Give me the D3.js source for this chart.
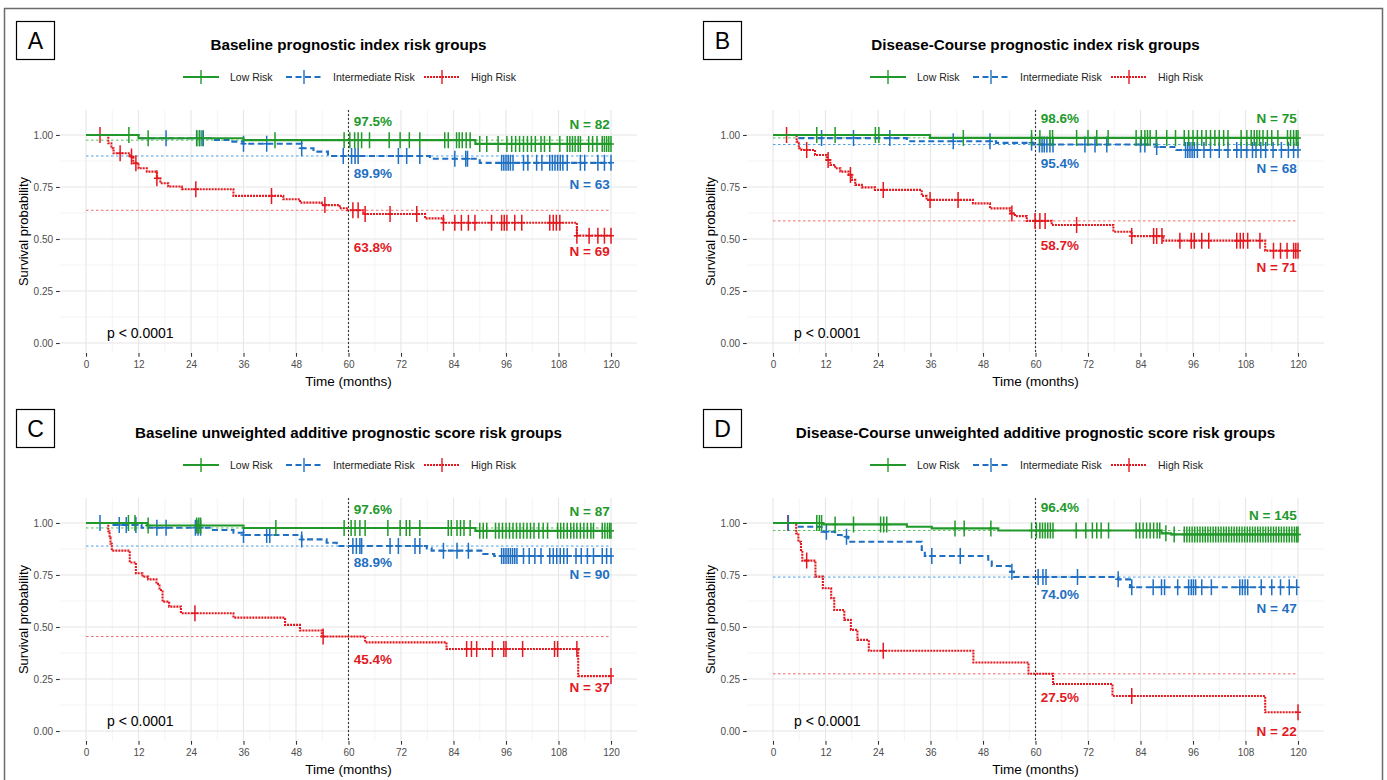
<!DOCTYPE html>
<html>
<head>
<meta charset="utf-8">
<script src="https://cdn.jsdelivr.net/npm/d3@7"></script>
<style>
  body { margin: 0; background: #fff; }
  svg { display: block; font-family: "Liberation Sans", Arial, sans-serif; }
</style>
</head>
<body>
<svg id="chart" width="1387" height="780"></svg>
<script>
// ---- data ----
var xTicks = [0, 12, 24, 36, 48, 60, 72, 84, 96, 108, 120];
var yTicks = [0, 0.25, 0.5, 0.75, 1];
var yTickLabels = ["0.00", "0.25", "0.50", "0.75", "1.00"];
var groupNames = ["Low Risk", "Intermediate Risk", "High Risk"];
var panelLetters = ["A", "B", "C", "D"];
var panelTitles = [
    "Baseline prognostic index risk groups",
    "Disease-Course prognostic index risk groups",
    "Baseline unweighted additive prognostic score risk groups",
    "Disease-Course unweighted additive prognostic score risk groups"
];
var survAt60 = [[97.5, 89.9, 63.8], [98.6, 95.4, 58.7], [97.6, 88.9, 45.4], [96.4, 74.0, 27.5]];
var groupN = [[82, 63, 69], [75, 68, 71], [87, 90, 37], [145, 47, 22]];
// annotation heights in survival units
var pctLabelY = [[1.067, 0.817, 0.457], [1.077, 0.865, 0.471], [1.067, 0.808, 0.346], [1.072, 0.654, 0.163]];
var nLabelY = [[1.048, 0.764, 0.438], [1.077, 0.837, 0.361], [1.053, 0.75, 0.207], [1.034, 0.587, 0.0]];

// step curves: [month, survival from that month on]
var aLowSteps = [[0, 1], [12, 0.984], [36, 0.975], [89, 0.957]];
var aLowCens = [9.8, 14.2, 25.3, 25.9, 26.5, 43.2, 59, 60.3, 61.4, 62.2, 63, 64.8, 69.3, 71.8, 73.9, 76.3, 82, 82.8, 84.7, 85.3, 86, 86.9, 87.8, 90, 91.6, 94.2, 96.2, 97.3, 98.2, 99.1, 100, 100.9, 101.8, 102.7, 104, 104.8, 106, 108.3, 110, 110.6, 111.2, 111.8, 112.5, 113, 114.9, 115.8, 116.8, 118, 118.5, 119, 119.5, 120];
var aMidSteps = [[0, 1], [12, 0.984], [29, 0.976], [33, 0.968], [36, 0.958], [49.3, 0.936], [52, 0.92], [55.3, 0.899], [78.6, 0.886], [90, 0.866]];
var aMidCens = [18.3, 25.3, 26, 26.8, 36, 41.3, 49.3, 58.8, 60.7, 61.5, 62.2, 71.4, 73.3, 76.3, 84.3, 86.8, 87.2, 95, 95.5, 96, 96.5, 97, 97.6, 100, 101, 103, 104.2, 106, 106.6, 107.2, 107.8, 108.4, 109, 110, 113, 114, 117, 118.5, 120];
var aHighSteps = [[0, 1], [5.1, 0.96], [5.8, 0.936], [6.3, 0.912], [10, 0.896], [10.8, 0.864], [12, 0.84], [13.9, 0.824], [16.2, 0.792], [17, 0.768], [18.8, 0.752], [21.9, 0.739], [33.7, 0.707], [45.1, 0.691], [48.9, 0.675], [53.9, 0.663], [58, 0.648], [59.6, 0.638], [63.4, 0.62], [77.5, 0.599], [81.7, 0.578], [112.2, 0.516]];
var aHighCens = [3.2, 7.8, 10.4, 11.4, 16.2, 25.1, 42.4, 54.6, 61, 62.2, 63.8, 69.5, 75.6, 81.7, 84.3, 85.8, 87.4, 88.9, 92.7, 95, 95.6, 96.2, 98, 99.6, 106, 106.8, 107.5, 108.3, 112.2, 115, 117, 118.5, 120];

var bLowSteps = [[0, 1], [35.9, 0.986]];
var bLowCens = [10, 14.2, 23.4, 24.2, 43.5, 59.1, 61, 63.3, 63.9, 69.4, 72, 74, 76.6, 83, 84.2, 85, 85.6, 86.2, 87.6, 90, 92, 94, 95, 96, 97, 98, 99, 100, 101, 102, 103, 104, 107, 108.3, 109.3, 110, 110.6, 111.2, 112, 113, 114, 115.4, 117.6, 118.3, 119, 119.6, 120];
var bMidSteps = [[0, 1], [5.4, 0.985], [30.6, 0.97], [51, 0.962], [59.5, 0.954], [87.7, 0.942], [92.2, 0.928]];
var bMidCens = [11.1, 18.4, 26.7, 41.2, 49.6, 59.1, 60.9, 61.5, 62, 62.6, 63.3, 64, 71.3, 73.6, 76.3, 84, 85, 87.7, 94.3, 94.8, 95.3, 95.8, 96.3, 97, 98.5, 100, 102, 104, 106, 107, 108.3, 109.6, 110.4, 111.5, 112.6, 114.3, 116.2, 117.8, 119, 120];
var bHighSteps = [[0, 1], [5.4, 0.968], [5.9, 0.936], [6.5, 0.928], [9.6, 0.904], [12.3, 0.88], [13.1, 0.856], [14.2, 0.84], [15.4, 0.824], [17.3, 0.808], [18, 0.784], [18.8, 0.76], [20.3, 0.748], [23.3, 0.736], [34, 0.707], [35.1, 0.688], [45.7, 0.671], [49.6, 0.647], [54.2, 0.623], [55.3, 0.61], [58, 0.587], [63.7, 0.567], [77.8, 0.535], [82, 0.514], [89.2, 0.492], [112.5, 0.444]];
var bHighCens = [3.1, 7.7, 12.6, 17.7, 25.2, 35.9, 42.3, 54.6, 59.9, 61, 62.2, 69.4, 82, 87, 87.7, 88.9, 93, 95.6, 96.3, 98, 99.6, 106, 106.8, 107.5, 108.5, 111.3, 114.4, 116, 117.5, 119, 119.5, 120];

var cLowSteps = [[0, 1], [14, 0.988], [36, 0.976], [89, 0.962]];
var cLowCens = [9.7, 11.2, 14.2, 25.3, 25.8, 26.2, 43.4, 59, 60.6, 61.5, 62.6, 63.8, 69, 71.8, 73.2, 74, 76.3, 82.8, 83.5, 84.8, 85.6, 86.4, 87.8, 90, 90.8, 91.6, 93.6, 94.4, 95.2, 96, 96.8, 97.6, 98.4, 99.2, 100, 100.8, 101.6, 102.4, 103.5, 104.5, 105.5, 107.8, 108.5, 109.2, 110, 110.8, 111.5, 112.2, 113, 113.8, 114.6, 115.4, 116, 118, 118.6, 119.2, 119.7, 120];
var cMidSteps = [[0, 1], [5.5, 0.99], [12.7, 0.977], [29, 0.966], [33.7, 0.953], [36, 0.942], [49.3, 0.921], [55, 0.905], [57.3, 0.889], [77.9, 0.878], [79, 0.867], [90.8, 0.851], [93.3, 0.841]];
var cMidCens = [3.2, 7.6, 9.2, 11.4, 16.2, 18.3, 25, 25.6, 26.2, 36, 41.3, 42, 49.3, 61, 61.8, 62.6, 63, 69.5, 71.4, 75.2, 76.3, 81.7, 84.8, 87.4, 95, 95.5, 96, 96.5, 97, 97.5, 98, 98.5, 100, 101.3, 102.6, 104, 106, 106.8, 107.6, 108.4, 109.2, 110, 112, 113.2, 114.6, 116, 118, 119, 120];
var cHighSteps = [[0, 1], [5.1, 0.96], [5.4, 0.93], [5.6, 0.9], [5.9, 0.867], [10, 0.81], [11.4, 0.758], [12.9, 0.742], [14.2, 0.729], [16.1, 0.707], [16.8, 0.678], [17.5, 0.622], [19, 0.598], [21.7, 0.566], [33.7, 0.545], [45.5, 0.51], [48.9, 0.483], [53.9, 0.454], [63.8, 0.426], [82.4, 0.394], [112.5, 0.264]];
var cHighCens = [24.9, 54.2, 87, 88.1, 89.3, 92.9, 95.5, 96, 99.8, 107.1, 107.8, 112.2, 120];

var dLowSteps = [[0, 1], [11.5, 0.993], [30.6, 0.982], [36.3, 0.974], [51.5, 0.964], [88.8, 0.95], [91, 0.945]];
var dLowCens = [10, 10.6, 11.1, 14.2, 18.4, 24.6, 25.3, 26, 41.6, 43.7, 49.8, 59.1, 60.2, 61, 61.6, 62.2, 62.8, 63.4, 64, 69.3, 71.5, 73, 74, 75, 76.7, 83, 83.8, 84.6, 85.4, 86.2, 87, 87.8, 88.4, 89.8, 91.7, 94, 94.6, 95.2, 95.8, 96.4, 97, 97.6, 98.2, 98.8, 99.4, 100, 100.6, 101.2, 101.8, 102.4, 103, 103.6, 104.2, 104.8, 105.4, 106, 106.6, 107.2, 107.8, 108.4, 109, 109.6, 110.2, 110.8, 111.4, 112, 112.6, 113.2, 113.8, 114.4, 115, 115.6, 116.2, 116.8, 117.4, 118, 118.6, 119.2, 119.7, 120];
var dMidSteps = [[0, 1], [5.4, 0.982], [11.1, 0.958], [14.2, 0.942], [15.7, 0.934], [17.2, 0.91], [34, 0.87], [34.7, 0.841], [49.2, 0.814], [50, 0.793], [54.2, 0.766], [55, 0.74], [78.9, 0.729], [81.6, 0.691]];
var dMidCens = [3.5, 12.2, 16.8, 36.3, 42.8, 54.6, 60.6, 61.7, 62.4, 69.6, 78.9, 82, 86.9, 88.8, 89.5, 92.5, 95, 95.6, 96.1, 96.6, 98, 100.2, 106.7, 107.3, 107.9, 108.5, 111.6, 114, 116, 118, 119.7];
var dHighSteps = [[0, 1], [5.3, 0.95], [5.8, 0.91], [6.4, 0.862], [6.7, 0.819], [9.7, 0.742], [11.4, 0.686], [13.3, 0.638], [14, 0.582], [16.3, 0.534], [17.8, 0.486], [19.3, 0.438], [21.9, 0.386], [45.8, 0.329], [58.4, 0.275], [64, 0.226], [77.6, 0.168], [112.5, 0.09]];
var dHighCens = [3.4, 7.7, 25.2, 82, 120];

var panelSteps = [
    [aLowSteps, aMidSteps, aHighSteps],
    [bLowSteps, bMidSteps, bHighSteps],
    [cLowSteps, cMidSteps, cHighSteps],
    [dLowSteps, dMidSteps, dHighSteps]
];
var panelCens = [
    [aLowCens, aMidCens, aHighCens],
    [bLowCens, bMidCens, bHighCens],
    [cLowCens, cMidCens, cHighCens],
    [dLowCens, dMidCens, dHighCens]
];

// ---- styling ----
var lineColors = ["#21992a", "#1f6fc2", "#e3191f"];
var refColors = ["#56c156", "#4a9fe6", "#f26a6a"];
var dashes = [null, "6,3.5", "2,1"];

var svg = d3.select("#chart");

svg.append("rect")
    .attr("x", 4.5).attr("y", 8.5)
    .attr("width", 1378).attr("height", 775)
    .attr("fill", "none").attr("stroke", "#6b6b6b").attr("stroke-width", 1.5);

function survAt(steps, t) {
    var s = steps[0][1];
    steps.forEach(function (d) { if (d[0] <= t) s = d[1]; });
    return s;
}

function drawPanel(p) {
    var dx = (p % 2) * 687;
    var dy = Math.floor(p / 2) * 388;
    var g = svg.append("g").attr("transform", "translate(" + dx + "," + dy + ")");

    var x = d3.scaleLinear().domain([-6, 126]).range([59.75, 637.25]);
    var y = d3.scaleLinear().domain([-0.048, 1.12]).range([353, 110]);

    // panel letter
    g.append("rect").attr("x", 16.5).attr("y", 21.5).attr("width", 38).attr("height", 38)
        .attr("fill", "#fff").attr("stroke", "#000").attr("stroke-width", 1.2);
    g.append("text").attr("x", 35.5).attr("y", 41).attr("text-anchor", "middle")
        .attr("dominant-baseline", "central").style("font-size", "23px").text(panelLetters[p]);

    // title
    g.append("text").attr("x", 348.5).attr("y", 44).attr("text-anchor", "middle")
        .attr("dominant-baseline", "central").style("font-size", "15.2px").style("font-weight", "bold")
        .text(panelTitles[p]);

    // legend
    var keyX = [183, 286, 424];
    var txtX = [230, 333, 471];
    groupNames.forEach(function (name, i) {
        var lg = g.append("g");
        lg.append("line").attr("x1", keyX[i]).attr("x2", keyX[i] + 36).attr("y1", 77).attr("y2", 77)
            .attr("stroke", lineColors[i]).attr("stroke-width", 2)
            .attr("stroke-dasharray", dashes[i]);
        lg.append("line").attr("x1", keyX[i] + 18).attr("x2", keyX[i] + 18).attr("y1", 70).attr("y2", 84)
            .attr("stroke", lineColors[i]).attr("stroke-width", 1.4);
        lg.append("text").attr("x", txtX[i]).attr("y", 77).attr("dominant-baseline", "central")
            .style("font-size", "10.5px").attr("fill", "#222").text(name);
    });

    // grid
    var minorX = xTicks.slice(0, -1).map(function (t) { return t + 6; });
    var minorY = yTicks.slice(0, -1).map(function (t) { return t + 0.125; });
    var grid = g.append("g");
    grid.selectAll(".mx").data(minorX).enter().append("line")
        .attr("x1", x).attr("x2", x).attr("y1", 110).attr("y2", 353)
        .attr("stroke", "#f1f1f1").attr("stroke-width", 0.8);
    grid.selectAll(".my").data(minorY).enter().append("line")
        .attr("x1", 59.75).attr("x2", 637.25).attr("y1", y).attr("y2", y)
        .attr("stroke", "#f1f1f1").attr("stroke-width", 0.8);
    grid.selectAll(".gx").data(xTicks).enter().append("line")
        .attr("x1", x).attr("x2", x).attr("y1", 110).attr("y2", 353)
        .attr("stroke", "#e6e6e6").attr("stroke-width", 1.1);
    grid.selectAll(".gy").data(yTicks).enter().append("line")
        .attr("x1", 59.75).attr("x2", 637.25).attr("y1", y).attr("y2", y)
        .attr("stroke", "#e6e6e6").attr("stroke-width", 1.1);

    // axes
    var xAxis = d3.axisBottom(x).tickValues(xTicks).tickSize(3.7).tickPadding(4);
    var xg = g.append("g").attr("transform", "translate(0,353)").call(xAxis);
    var yAxis = d3.axisLeft(y).tickValues(yTicks).tickSize(3.7).tickPadding(3)
        .tickFormat(function (d, i) { return yTickLabels[i]; });
    var yg = g.append("g").attr("transform", "translate(59.75,0)").call(yAxis);
    [xg, yg].forEach(function (ax) {
        ax.select(".domain").remove();
        ax.selectAll(".tick line").attr("stroke", "#333").attr("stroke-width", 1.1);
        ax.selectAll(".tick text").attr("fill", "#4d4d4d")
            .style("font-size", "10px").style("font-family", "'Liberation Sans', Arial, sans-serif");
    });

    g.append("text").attr("x", 348.5).attr("y", 381).attr("text-anchor", "middle")
        .attr("dominant-baseline", "central").style("font-size", "13.5px").text("Time (months)");
    g.append("text").attr("transform", "translate(23,231.5) rotate(-90)").attr("text-anchor", "middle")
        .attr("dominant-baseline", "central").style("font-size", "13px").text("Survival probability");

    // reference lines at 60 months
    survAt60[p].forEach(function (v, i) {
        g.append("line").attr("x1", x(0)).attr("x2", x(120)).attr("y1", y(v / 100)).attr("y2", y(v / 100))
            .attr("stroke", refColors[i]).attr("stroke-width", 1).attr("stroke-dasharray", "2.5,2.5");
    });
    g.append("line").attr("x1", x(60)).attr("x2", x(60)).attr("y1", 110).attr("y2", 353)
        .attr("stroke", "#333").attr("stroke-width", 1.1).attr("stroke-dasharray", "2,2");

    // curves
    var line = d3.line()
        .x(function (d) { return x(d[0]); })
        .y(function (d) { return y(d[1]); })
        .curve(d3.curveStepAfter);

    [2, 1, 0].forEach(function (i) {
        var steps = panelSteps[p][i];
        var pts = steps.concat([[120, steps[steps.length - 1][1]]]);
        g.append("path").attr("d", line(pts)).attr("fill", "none")
            .attr("stroke", lineColors[i]).attr("stroke-width", 2.1)
            .attr("stroke-dasharray", dashes[i]);

        g.append("g").selectAll("path").data(panelCens[p][i]).enter().append("path")
            .attr("d", function (t) {
                var cx = x(t), cy = y(survAt(steps, t));
                return "M" + cx + "," + (cy - 8) + "V" + (cy + 8) + "M" + (cx - 3) + "," + cy + "H" + (cx + 3);
            })
            .attr("stroke", lineColors[i]).attr("stroke-width", 1.5).attr("fill", "none");
    });

    // value labels
    survAt60[p].forEach(function (v, i) {
        g.append("text").attr("x", x(61.2)).attr("y", y(pctLabelY[p][i]))
            .attr("dominant-baseline", "central").attr("fill", lineColors[i])
            .style("font-size", "13.5px").style("font-weight", "bold").text(v.toFixed(1) + "%");
        g.append("text").attr("x", x(119.7)).attr("y", y(nLabelY[p][i])).attr("text-anchor", "end")
            .attr("dominant-baseline", "central").attr("fill", lineColors[i])
            .style("font-size", "13.5px").style("font-weight", "bold").text("N = " + groupN[p][i]);
    });

    g.append("text").attr("x", 107).attr("y", 333).attr("dominant-baseline", "central")
        .style("font-size", "14px").text("p < 0.0001");
}

[0, 1, 2, 3].forEach(drawPanel);
</script>
</body>
</html>
